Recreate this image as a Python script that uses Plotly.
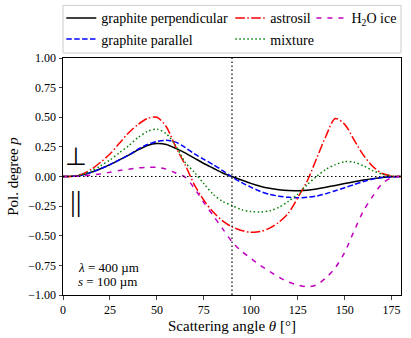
import plotly.graph_objects as go

# scattering angle grid (deg)
theta = [0, 5, 10, 15, 20, 25, 30, 35, 40, 45, 50, 55, 60, 65, 70, 75, 80, 85, 90,
         95, 100, 105, 110, 115, 120, 125, 130, 135, 140, 145, 150, 155, 160, 165, 170, 175, 180]

graphite_perp = [0, 0.002, 0.012, 0.035, 0.065, 0.10, 0.14, 0.18, 0.225, 0.262, 0.278, 0.27, 0.237, 0.20,
                 0.155, 0.11, 0.07, 0.03, 0.0, -0.03, -0.058, -0.082, -0.10, -0.112, -0.119, -0.12, -0.116,
                 -0.105, -0.09, -0.075, -0.06, -0.045, -0.03, -0.018, -0.008, -0.002, 0]

graphite_para = [0, 0.002, 0.012, 0.035, 0.065, 0.10, 0.14, 0.18, 0.23, 0.27, 0.295, 0.305, 0.29, 0.245,
                 0.19, 0.145, 0.10, 0.05, -0.005, -0.05, -0.09, -0.125, -0.15, -0.166, -0.176, -0.18, -0.176,
                 -0.165, -0.145, -0.12, -0.095, -0.068, -0.042, -0.022, -0.008, -0.002, 0]

astrosil = [0, 0.003, 0.02, 0.06, 0.12, 0.19, 0.28, 0.37, 0.44, 0.49, 0.50, 0.42, 0.25, 0.10, -0.07, -0.20,
            -0.30, -0.375, -0.425, -0.455, -0.47, -0.465, -0.435, -0.385, -0.31, -0.18, -0.04, 0.15, 0.34,
            0.49, 0.44, 0.31, 0.18, 0.085, 0.025, 0.005, 0]

mixture = [0, 0.003, 0.015, 0.045, 0.09, 0.14, 0.20, 0.26, 0.33, 0.38, 0.40, 0.36, 0.26, 0.12, 0.035, -0.06,
           -0.15, -0.21, -0.245, -0.28, -0.295, -0.30, -0.29, -0.26, -0.21, -0.15, -0.07, 0.0, 0.06, 0.10,
           0.125, 0.12, 0.09, 0.05, 0.02, 0.005, 0]

h2o_ice = [0, 0.001, 0.005, 0.012, 0.022, 0.035, 0.05, 0.062, 0.072, 0.077, 0.077, 0.062, 0.03, -0.005,
           -0.10, -0.22, -0.33, -0.44, -0.55, -0.63, -0.69, -0.75, -0.80, -0.85, -0.89, -0.915, -0.93,
           -0.915, -0.855, -0.77, -0.64, -0.46, -0.29, -0.165, -0.06, -0.01, 0]

xticks = [0, 25, 50, 75, 100, 125, 150, 175]
yticks = [-1.0, -0.75, -0.5, -0.25, 0.0, 0.25, 0.5, 0.75, 1.0]

FONT = "Liberation Serif, Times New Roman, serif"

series = [
    # name, values, color, dash, legend
    ("graphite perpendicular", graphite_perp, "black", "solid", "legend"),
    ("graphite parallel", graphite_para, "#0000ff", "5.5px,2.4px", "legend"),
    ("astrosil", astrosil, "#ff0000", "9.6px,2.4px,1.5px,2.4px", "legend2"),
    ("mixture", mixture, "#008000", "1.5px,2.5px", "legend2"),
    ("H<sub>2</sub>O ice", h2o_ice, "#bf00bf", "5px,6px", "legend3"),
]

fig = go.Figure()
for name, vals, col, dash, leg in series:
    fig.add_trace(go.Scatter(
        x=theta, y=vals, mode="lines", name=name, legend=leg,
        line=dict(color=col, width=1.5, dash=dash, shape="spline", smoothing=0.8),
    ))

# reference lines
fig.add_hline(y=0, line=dict(color="black", width=1.2, dash="1.5px,2.5px"))
fig.add_vline(x=90, line=dict(color="black", width=1.2, dash="1.5px,2.5px"))

# legend frame
fig.add_shape(type="rect", xref="paper", yref="paper", x0=0, x1=1, y0=1.021, y1=1.222,
              line=dict(color="#cccccc", width=1), fillcolor="white", layer="below")

fig.add_annotation(x=7, y=0.165, text="⊥", showarrow=False, font=dict(size=25, family=FONT, color="black"))
fig.add_annotation(x=7, y=-0.21, text="||", showarrow=False, font=dict(size=29, family=FONT, color="black"))
fig.add_annotation(x=0.038, y=0.118, xref="paper", yref="paper", xanchor="left", yanchor="middle",
                   text="<i>λ</i> = 400 µm", showarrow=False, font=dict(size=13, family=FONT, color="black"))
fig.add_annotation(x=0.038, y=0.055, xref="paper", yref="paper", xanchor="left", yanchor="middle",
                   text="<i>s</i> = 100 µm", showarrow=False, font=dict(size=13, family=FONT, color="black"))

legend_style = dict(font=dict(size=14, family=FONT, color="black"), bgcolor="rgba(0,0,0,0)",
                    borderwidth=0, yanchor="top", xanchor="left", tracegroupgap=0)

fig.update_layout(
    width=411, height=338,
    margin=dict(l=63, r=10, t=58, b=43, autoexpand=False),
    paper_bgcolor="white", plot_bgcolor="white",
    font=dict(family=FONT, color="black", size=12),
    legend=dict(x=-0.005, y=1.235, **legend_style),
    legend2=dict(x=0.495, y=1.235, **legend_style),
    legend3=dict(x=0.735, y=1.235, **legend_style),
    xaxis=dict(range=[0, 180], tickvals=xticks, ticks="outside", ticklen=3.5, tickwidth=1,
               showline=True, linecolor="black", linewidth=1, mirror=True, showgrid=False, zeroline=False,
               tickfont=dict(size=12),
               title=dict(text="Scattering angle <i>θ</i> [°]", font=dict(size=15), standoff=4)),
    yaxis=dict(range=[-1, 1], tickvals=yticks, tickformat=".2f", ticks="outside", ticklen=3.5, tickwidth=1,
               showline=True, linecolor="black", linewidth=1, mirror=True, showgrid=False, zeroline=False,
               tickfont=dict(size=12),
               title=dict(text="Pol. degree <i>p</i>", font=dict(size=15), standoff=6)),
)

# drop the default page margin so the figure sits at the window's corner
fig.write_html("out.html", config={"displayModeBar": False},
               post_script="document.body.style.margin = '0';")
